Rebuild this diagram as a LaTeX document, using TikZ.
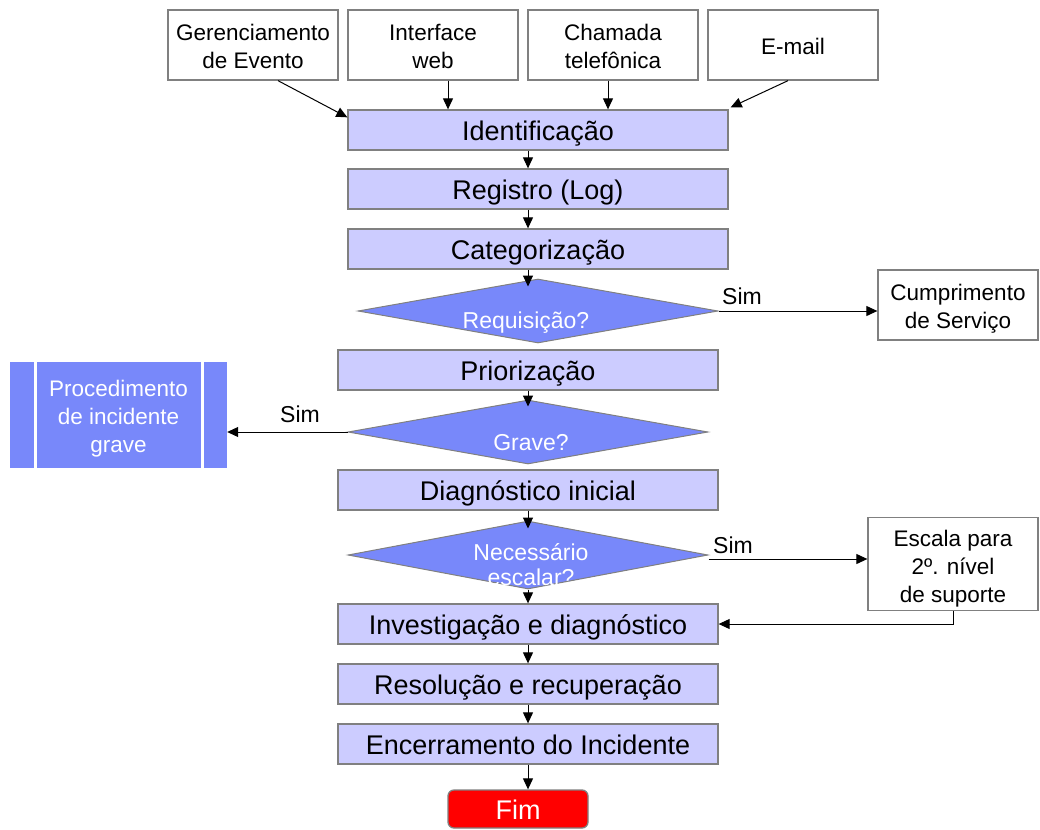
\documentclass[tikz,border=0pt]{standalone}
\usepackage{fontspec}
\setmainfont{Liberation Sans}
\usetikzlibrary{shapes.geometric,arrows.meta,calc}
\definecolor{lav}{RGB}{204,204,255}
\definecolor{dia}{RGB}{120,136,250}
\definecolor{edgegray}{RGB}{128,128,128}
\newcommand{\cellstack}[2]{\begin{tabular}{@{}c@{}}\rule{0pt}{#1}#2\end{tabular}}
\begin{document}
\begin{tikzpicture}[x=1pt,y=-1pt,
  stepbox/.style={draw=edgegray,fill=lav,line width=1.3pt,minimum width=380pt,minimum height=40pt,inner sep=0pt,text height=23pt,text depth=2pt,font=\fontsize{27}{30}\selectfont},
  srcbox/.style={draw=edgegray,fill=white,line width=1.3pt,minimum width=170pt,minimum height=70pt,inner sep=0pt,font=\fontsize{22.5}{28}\selectfont},
  decision/.style={diamond,draw=edgegray,fill=dia,line width=1pt,minimum width=360pt,minimum height=64pt,inner sep=0pt},
  dtext/.style={text=white,align=center,font=\fontsize{23}{25}\selectfont},
  simlabel/.style={font=\fontsize{23}{25}\selectfont},
  conn/.style={draw=black,line width=1pt,-{Triangle[length=11pt,width=10pt]}},
  endbox/.style={draw=edgegray,fill=red,rounded corners=6pt,line width=1.3pt,minimum width=140pt,minimum height=38pt,inner sep=0pt,text=white,text height=22pt,text depth=2pt,font=\fontsize{27}{30}\selectfont}
]
\useasboundingbox (0,0) rectangle (1040,829);

% source boxes
\node[srcbox] (ev) at (253,45) {\cellstack{28pt}{Gerenciamento\\de Evento}};
\node[srcbox] (web) at (433,45) {\cellstack{28pt}{Interface\\web}};
\node[srcbox] (tel) at (613,45) {\cellstack{28pt}{Chamada\\telefônica}};
\node[srcbox] (mail) at (793,45) {\cellstack{28pt}{E-mail}};

% main column
\node[stepbox] (id) at (538,130) {Identificação};
\node[stepbox] (reg) at (538,189) {Registro (Log)};
\node[stepbox] (cat) at (538,249) {Categorização};
\node[decision] (req) at (538,311) {};
\node[dtext] (reqt) at (526,323) {Requisição?};
\node[stepbox] (prio) at (528,370) {Priorização};
\node[decision] (grv) at (528,432) {};
\node[dtext] (grvt) at (531,443) {Grave?};
\node[stepbox] (diag) at (528,490) {Diagnóstico inicial};
\node[decision,minimum height=68pt] (nec) at (528,555) {};
\node[dtext] (nect) at (531,565) {Necessário\\escalar?};
\node[stepbox] (inv) at (528,624) {Investigação e diagnóstico};
\node[stepbox] (res) at (528,684) {Resolução e recuperação};
\node[stepbox] (enc) at (528,744) {Encerramento do Incidente};
\node[endbox] (fim) at (518,809) {Fim};

% side boxes
\node[srcbox,minimum width=160pt] (cump) at (958,305) {\cellstack{28pt}{Cumprimento\\de Serviço}};
\node[srcbox,minimum width=170pt,minimum height=88pt] (esc) at (953,564) {\cellstack{29pt}{Escala para\\2º. nível\\de suporte}};
\node[fill=dia,minimum width=217pt,minimum height=106pt,inner sep=0pt,text=white,font=\fontsize{22.5}{28}\selectfont] (proc) at (118.5,415) {\cellstack{27pt}{Procedimento\\de incidente\\grave}};
\draw[white,line width=3pt] ($(proc.north west)+(26,0)$) -- ($(proc.south west)+(26,0)$);
\draw[white,line width=3pt] ($(proc.north east)+(-25,0)$) -- ($(proc.south east)+(-25,0)$);

% source arrows
\draw[conn] ($(ev.south)+(25,0)$) -- ($(id.north west)+(0,8)$);
\draw[conn] ($(web.south)+(15,0)$) -- ($(id.north)+(-90,0)$);
\draw[conn] ($(tel.south)+(-5,0)$) -- ($(id.north)+(70,0)$);
\draw[conn] ($(mail.south)+(-5,0)$) -- ($(id.north east)+(2,-2)$);

% main flow
\draw[conn] (id.south -| prio.north) -- (reg.north -| prio.north);
\draw[conn] (reg.south -| prio.north) -- (cat.north -| prio.north);
\draw[conn,shorten >=-8pt] (cat.south -| prio.north) -- (req.north -| prio.north);
\draw[conn,shorten >=-7pt] (prio.south) -- (grv.north);
\draw[conn,shorten >=-8pt] (diag.south) -- (nec.north);
\draw[conn] (nec.south) -- (inv.north);
\draw[conn] (inv.south) -- (res.north);
\draw[conn] (res.south) -- (enc.north);
\draw[conn] (enc.south) -- (fim.north -| enc.south);

% branches
\draw[conn] (req.east) -- (cump.west |- req.east);
\node[simlabel] (s1) at (742,296) {Sim};
\draw[conn] (grv.west) -- (proc.east |- grv.west);
\node[simlabel] (s2) at (300,414) {Sim};
\draw[conn] ($(nec.east)+(0,4)$) -- ($(nec.east -| esc.west)+(0,4)$);
\node[simlabel] (s3) at (733,545) {Sim};
\draw[conn] (esc.south) |- (inv.east);
\end{tikzpicture}
\end{document}
